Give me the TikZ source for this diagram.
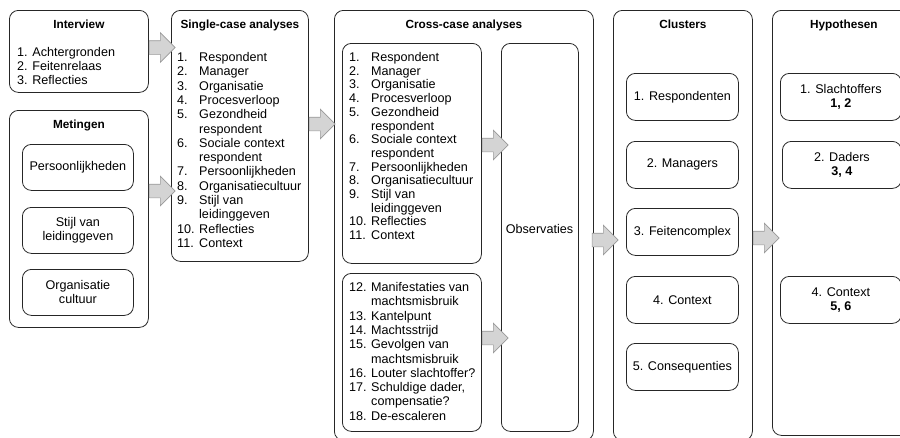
\documentclass[tikz,border=0pt]{standalone}
\usepackage{fontspec}
\setmainfont{Liberation Sans}
\usetikzlibrary{shapes.arrows}

\tikzset{
  outerbox/.style={draw=black!85, line width=0.8pt, rounded corners=9pt, anchor=north west, inner sep=0pt},
  innerbox/.style={draw=black!85, line width=0.8pt, rounded corners=9pt, anchor=north west, align=center,
    font=\fontsize{12.6}{14}\selectfont},
  boxtitle/.style={anchor=base, inner sep=0pt, font=\fontsize{11.8}{14}\selectfont\bfseries},
  listtext/.style={anchor=base west, inner sep=0pt},
  fatarrow/.style={single arrow, anchor=tail, draw=black!40, fill=black!17, line width=0.6pt,
    minimum height=26pt, minimum width=29pt, single arrow head extend=8pt,
    inner xsep=0pt, inner ysep=6.5pt}
}

\newcommand{\caseitems}{%
  1. & Respondent\\ 2. & Manager\\ 3. & Organisatie\\ 4. & Procesverloop\\
  5. & Gezondheid\\ & respondent\\ 6. & Sociale context\\ & respondent\\
  7. & Persoonlijkheden\\ 8. & Organisatiecultuur\\ 9. & Stijl van\\ & leidinggeven\\
  10. & Reflecties\\ 11. & Context}

\begin{document}
\begin{tikzpicture}[x=1pt,y=-1pt]
\useasboundingbox (0,0) rectangle (900,437);
\clip (0,0) rectangle (900,437);

% columns
\node[outerbox, minimum width=139pt, minimum height=82pt] (intv) at (9,10) {};
\node[outerbox, minimum width=139pt, minimum height=217pt] (met) at (9,110) {};
\node[outerbox, minimum width=137pt, minimum height=251pt] (single) at (171,10) {};
\node[outerbox, minimum width=259pt, minimum height=430pt] (cross) at (334,10) {};
\node[outerbox, minimum width=139pt, minimum height=430pt] (clus) at (613,10) {};
\node[outerbox, minimum width=143pt, minimum height=425pt] (hyp) at (772,10) {};

\node[boxtitle] at ([yshift=-18pt]intv.north) {Interview};
\node[boxtitle] at ([yshift=-18pt]met.north) {Metingen};
\node[boxtitle] at ([yshift=-18pt]single.north) {Single-case analyses};
\node[boxtitle] at ([yshift=-18pt]cross.north) {Cross-case analyses};
\node[boxtitle] at ([yshift=-18pt]clus.north) {Clusters};
\node[boxtitle] at ([yshift=-18pt]hyp.north) {Hypothesen};

% interview + metingen
\node[listtext] (intvL) at (17,56) {\fontsize{12.6}{14}\selectfont
  \begin{tabular}[t]{@{}l@{}}1. Achtergronden\\2. Feitenrelaas\\3. Reflecties\end{tabular}};
\foreach \N/\T/\Y in {1/Persoonlijkheden/144, 2/Stijl van\\leidinggeven/207, 3/Organisatie\\cultuur/269}{
  \node[innerbox, minimum width=111pt, minimum height=46pt] (met\N) at (22,\Y) {\T};
}

% single-case
\node[listtext] (singleL) at (177,61.5) {\fontsize{12.6}{14.3}\selectfont
  \begin{tabular}[t]{@{}p{22pt}@{}l@{}}\caseitems\end{tabular}};

% cross-case
\node[innerbox, minimum width=139pt, minimum height=220pt] (list1) at (342,43) {};
\node[innerbox, minimum width=139pt, minimum height=158pt] (list2) at (342,273) {};
\node[innerbox, minimum width=77pt, minimum height=388pt] (obs) at (501,43) {};
\node[anchor=base, font=\fontsize{12.6}{14}\selectfont] (obsT) at (539.5,233) {Observaties};
\node[listtext] (list1L) at (349,61.5) {\fontsize{12.6}{13.7}\selectfont
  \begin{tabular}[t]{@{}p{22pt}@{}l@{}}\caseitems\end{tabular}};
\node[listtext] (list2L) at (349,291.5) {\fontsize{12.6}{14.3}\selectfont
  \begin{tabular}[t]{@{}p{22pt}@{}l@{}}
  12. & Manifestaties van\\ & machtsmisbruik\\ 13. & Kantelpunt\\ 14. & Machtsstrijd\\
  15. & Gevolgen van\\ & machtsmisbruik\\ 16. & Louter slachtoffer?\\
  17. & Schuldige dader,\\ & compensatie?\\ 18. & De-escaleren
  \end{tabular}};

% clusters
\foreach \N/\T/\Y in {1/1. Respondenten/73, 2/2. Managers/141, 3/3. Feitencomplex/208,
  4/4. Context/276, 5/5. Consequenties/343}{
  \node[innerbox, minimum width=112pt, minimum height=47pt] (cl\N) at (626,\Y) {\T};
}

% hypothesen
\node[innerbox, minimum width=121pt, minimum height=47pt] (hy1) at (780,73) {1. Slachtoffers\\\textbf{1, 2}};
\node[innerbox, minimum width=119pt, minimum height=47pt] (hy2) at (782,141) {2. Daders\\\textbf{3, 4}};
\node[innerbox, minimum width=121pt, minimum height=47pt] (hy4) at (780,276) {4. Context\\\textbf{5, 6}};

% arrows
\node[fatarrow] (ar1) at (intv.east |- 0,47.5) {};
\node[fatarrow] (ar2) at (met.east |- 0,191) {};
\node[fatarrow] (ar3) at (single.east |- 0,124) {};
\node[fatarrow] (ar4) at (list1.east |- 0,145) {};
\node[fatarrow] (ar5) at (list2.east |- 0,338) {};
\node[fatarrow] (ar6) at ([xshift=-2pt]cross.east |- 0,240) {};
\node[fatarrow] (ar7) at (clus.east |- 0,238) {};
\end{tikzpicture}
\end{document}
